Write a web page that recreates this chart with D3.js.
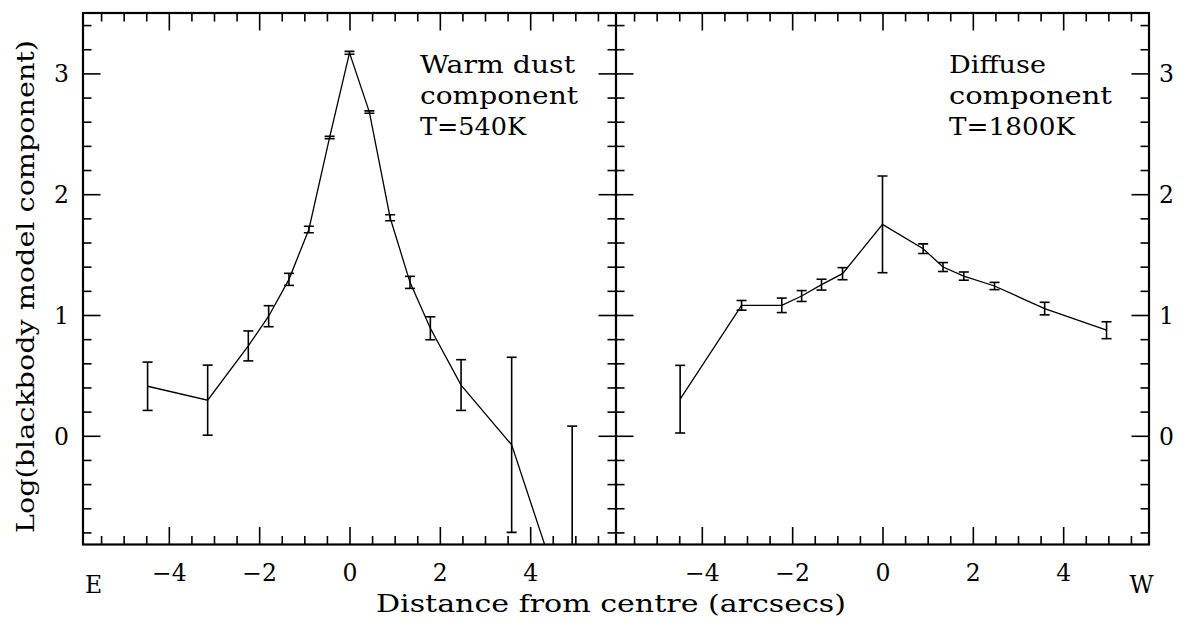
<!DOCTYPE html>
<html>
<head>
<meta charset="utf-8">
<script src="https://cdn.jsdelivr.net/npm/d3@7"></script>
<style>
  html, body { margin: 0; padding: 0; background: #fff; }
  svg { display: block; }
  text { font-family: "DejaVu Serif", "Liberation Serif", serif; fill: #000; }
</style>
</head>
<body>
<svg id="chart" width="1184" height="623"></svg>
<script>
// ---- data ----
const warmX   = [-4.47, -3.14, -2.24, -1.79, -1.34, -0.90, -0.44, 0.00, 0.44, 0.90, 1.34, 1.79, 2.47, 3.59, 4.93];
const warmY   = [0.41, 0.295, 0.744, 0.99, 1.295, 1.708, 2.47, 3.17, 2.68, 1.805, 1.27, 0.89, 0.42, -0.075, -1.59];
const warmErr = [0.20, 0.29, 0.124, 0.087, 0.05, 0.027, 0.01, 0.012, 0.01, 0.025, 0.05, 0.095, 0.21, 0.725, 1.67];

const diffX   = [-4.48, -3.12, -2.23, -1.79, -1.35, -0.885, 0.00, 0.90, 1.34, 1.80, 2.48, 3.59, 4.96];
const diffY   = [0.303, 1.08, 1.08, 1.157, 1.251, 1.342, 1.75, 1.549, 1.397, 1.322, 1.24, 1.053, 0.874];
const diffErr = [0.28, 0.04, 0.06, 0.045, 0.045, 0.05, 0.40, 0.04, 0.037, 0.034, 0.03, 0.052, 0.07];

const xMajorTicks = [-4, -2, 0, 2, 4];
const xTickLabels = ["\u22124", "\u22122", "0", "2", "4"];
const xMinorTicks = [-5.5, -5, -4.5, -3.5, -3, -2.5, -1.5, -1, -0.5, 0.5, 1, 1.5, 2.5, 3, 3.5, 4.5, 5, 5.5];
const yMajorTicks = [0, 1, 2, 3];
const yTickLabels = ["0", "1", "2", "3"];
const yMinorTicks = [-0.8, -0.6, -0.4, -0.2, 0.2, 0.4, 0.6, 0.8, 1.2, 1.4, 1.6, 1.8, 2.2, 2.4, 2.6, 2.8, 3.2, 3.4];

const panelTitles = [["Warm dust", "component", "T=540K"], ["Diffuse", "component", "T=1800K"]];
const xTitle = "Distance from centre (arcsecs)";
const yTitle = "Log(blackbody model component)";

// ---- layout ----
const svg = d3.select("#chart");
const pTop = 13, pBottom = 544.5, pLeft = 83, pMid = 616, pRight = 1149;
const xDomain = [-5.9, 5.9];
const yDomain = [-0.9, 3.5];
const y = d3.scaleLinear().domain(yDomain).range([pBottom, pTop]);
const xL = d3.scaleLinear().domain(xDomain).range([pLeft, pMid]);
const xR = d3.scaleLinear().domain(xDomain).range([pMid, pRight]);

const majLen = 17.5, minLen = 8.5;

function styleAxis(g) {
  g.select(".domain").remove();
  g.selectAll(".tick line").attr("stroke", "#000").attr("stroke-width", 1.6);
  g.selectAll("text").attr("font-family", "DejaVu Serif").attr("font-size", 23.5).attr("fill", "#000");
}

function drawPanel(x, xs, ys, es, labels, labelX, isLeft) {
  const clipId = "clip" + (isLeft ? "L" : "R");
  svg.append("clipPath").attr("id", clipId)
    .append("rect").attr("x", x.range()[0]).attr("y", pTop)
    .attr("width", x.range()[1] - x.range()[0]).attr("height", pBottom - pTop);

  // bottom axis
  svg.append("g").attr("transform", `translate(0,${pBottom})`)
    .call(d3.axisBottom(x).tickValues(xMinorTicks).tickSize(-minLen).tickFormat(""))
    .call(styleAxis);
  svg.append("g").attr("transform", `translate(0,${pBottom})`)
    .call(d3.axisBottom(x).tickValues(xMajorTicks).tickSize(-majLen).tickPadding(4)
      .tickFormat((d, i) => xTickLabels[i]))
    .call(styleAxis)
    .call(g => g.selectAll("text").attr("y", 36).attr("dy", 0));
  // top axis
  svg.append("g").attr("transform", `translate(0,${pTop})`)
    .call(d3.axisTop(x).tickValues(xMinorTicks).tickSize(-minLen).tickFormat(""))
    .call(styleAxis);
  svg.append("g").attr("transform", `translate(0,${pTop})`)
    .call(d3.axisTop(x).tickValues(xMajorTicks).tickSize(-majLen).tickFormat(""))
    .call(styleAxis);

  // vertical axes
  const x0 = x.range()[0], x1 = x.range()[1];
  svg.append("g").attr("transform", `translate(${x0},0)`)
    .call(d3.axisLeft(y).tickValues(yMinorTicks).tickSize(-minLen).tickFormat(""))
    .call(styleAxis);
  const la = svg.append("g").attr("transform", `translate(${x0},0)`)
    .call(d3.axisLeft(y).tickValues(yMajorTicks).tickSize(-majLen).tickPadding(14)
      .tickFormat((d, i) => isLeft ? yTickLabels[i] : ""))
    .call(styleAxis);
  la.selectAll("text").attr("dy", "0.36em");
  svg.append("g").attr("transform", `translate(${x1},0)`)
    .call(d3.axisRight(y).tickValues(yMinorTicks).tickSize(-minLen).tickFormat(""))
    .call(styleAxis);
  const ra = svg.append("g").attr("transform", `translate(${x1},0)`)
    .call(d3.axisRight(y).tickValues(yMajorTicks).tickSize(-majLen).tickPadding(10)
      .tickFormat((d, i) => isLeft ? "" : yTickLabels[i]))
    .call(styleAxis);
  ra.selectAll("text").attr("dy", "0.36em");

  // data
  const gData = svg.append("g").attr("clip-path", `url(#${clipId})`);
  const pts = xs.map((v, i) => ({ x: v, y: ys[i], e: es[i] }));
  gData.append("path").datum(pts)
    .attr("fill", "none").attr("stroke", "#000").attr("stroke-width", 1.3)
    .attr("d", d3.line().x(d => x(d.x)).y(d => y(d.y)));
  const eb = gData.selectAll("g.eb").data(pts).enter().append("g").attr("class", "eb");
  eb.append("line")
    .attr("x1", d => x(d.x)).attr("x2", d => x(d.x))
    .attr("y1", d => y(d.y - d.e)).attr("y2", d => y(d.y + d.e))
    .attr("stroke", "#000").attr("stroke-width", 1.6);
  [1, -1].forEach(s => {
    eb.append("line")
      .attr("x1", d => x(d.x) - 5).attr("x2", d => x(d.x) + 5)
      .attr("y1", d => y(d.y + s * d.e)).attr("y2", d => y(d.y + s * d.e))
      .attr("stroke", "#000").attr("stroke-width", 1.6);
  });

  // panel labels
  const widths = isLeft ? [155, 158, 106] : [97, 163, 126];
  labels.forEach((t, i) => {
    svg.append("text").attr("x", labelX).attr("y", 73 + i * 31)
      .attr("font-size", 25).attr("textLength", widths[i]).attr("lengthAdjust", "spacingAndGlyphs")
      .text(t);
  });
}

drawPanel(xL, warmX, warmY, warmErr, panelTitles[0], 420, true);
drawPanel(xR, diffX, diffY, diffErr, panelTitles[1], 949, false);

// frame
svg.append("rect").attr("x", pLeft).attr("y", pTop).attr("width", pRight - pLeft).attr("height", pBottom - pTop)
  .attr("fill", "none").attr("stroke", "#000").attr("stroke-width", 2.2);
svg.append("line").attr("x1", pMid).attr("x2", pMid).attr("y1", pTop).attr("y2", pBottom)
  .attr("stroke", "#000").attr("stroke-width", 2.2);

// titles
svg.append("text").attr("x", 376).attr("y", 612).attr("font-size", 25)
  .attr("textLength", 470).attr("lengthAdjust", "spacingAndGlyphs").text(xTitle);
svg.append("text").attr("transform", "translate(34,533) rotate(-90)").attr("font-size", 25)
  .attr("textLength", 493).attr("lengthAdjust", "spacingAndGlyphs").text(yTitle);
svg.append("text").attr("x", 93.5).attr("y", 593).attr("text-anchor", "middle").attr("font-size", 23.5).text("E");
svg.append("text").attr("x", 1141.5).attr("y", 593).attr("text-anchor", "middle").attr("font-size", 23.5).text("W");
</script>
</body>
</html>
